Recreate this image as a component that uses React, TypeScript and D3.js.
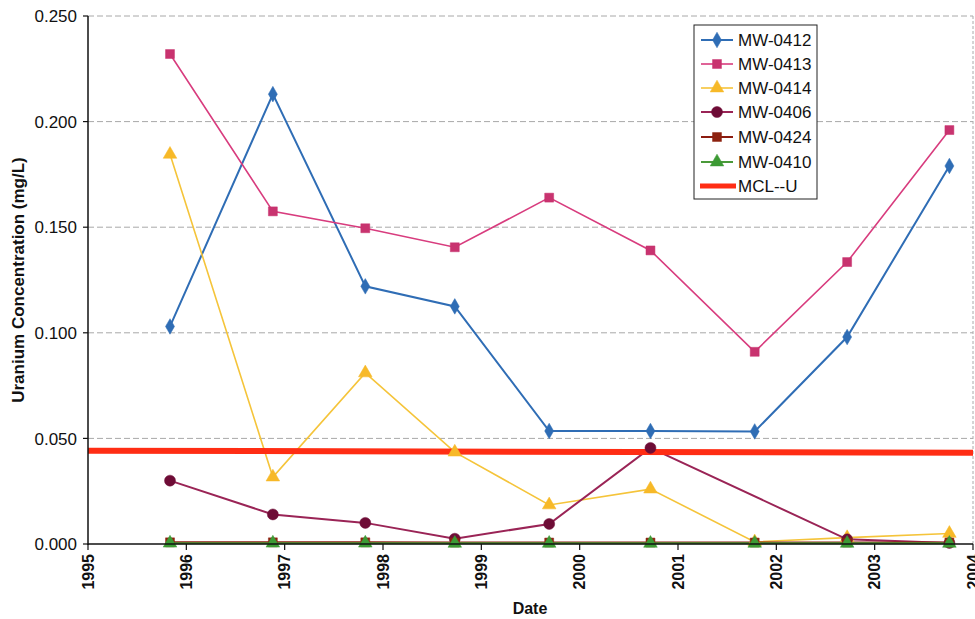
import React from "react";
import * as d3 from "d3";

const dates = [1995.834, 1996.88, 1997.82, 1998.73, 1999.69, 2000.72, 2001.78, 2002.72, 2003.76];
const mw0412 = [0.103, 0.213, 0.122, 0.1125, 0.0535, 0.0535, 0.0533, 0.098, 0.179];
const mw0413 = [0.232, 0.1575, 0.1495, 0.1405, 0.164, 0.139, 0.091, 0.1335, 0.196];
const mw0414 = [0.1845, 0.0317, 0.081, 0.0435, 0.0185, 0.026, 0.001, 0.003, 0.005];
const mw0406: (number | null)[] = [0.030, 0.014, 0.010, 0.0025, 0.0095, 0.0455, null, 0.0022, 0.0005];
const mw0424 = [0.0008, 0.0008, 0.0008, 0.0007, 0.0007, 0.0007, 0.0007, 0.0007, 0.0007];
const mw0410 = [0.0004, 0.0004, 0.0004, 0.0003, 0.0003, 0.0003, 0.0003, 0.0003, 0.0003];
const mclDates = [1995, 2004];
const mclValues = [0.0442, 0.0432];
const yTicks = [0, 0.05, 0.1, 0.15, 0.2, 0.25];
const xTicks = [1995, 1996, 1997, 1998, 1999, 2000, 2001, 2002, 2003, 2004];

type Series = { name: string; values: (number | null)[]; line: string; fill: string; marker: string; width: number };
const series: Series[] = [
  { name: "MW-0412", values: mw0412, line: "#2f6db5", fill: "#2f6db5", marker: "diamond", width: 2 },
  { name: "MW-0413", values: mw0413, line: "#d83c7e", fill: "#c8336f", marker: "square", width: 1.6 },
  { name: "MW-0414", values: mw0414, line: "#f5c43a", fill: "#f7b928", marker: "triangle", width: 1.6 },
  { name: "MW-0406", values: mw0406, line: "#9a2456", fill: "#6e0c36", marker: "circle", width: 2 },
  { name: "MW-0424", values: mw0424, line: "#8c1c10", fill: "#8c2210", marker: "square", width: 2 },
  { name: "MW-0410", values: mw0410, line: "#4a9a3a", fill: "#3c9a34", marker: "triangle", width: 2 },
];

const L = 88, R = 973, T = 16, B = 544;
const font = "'Liberation Sans', Arial, sans-serif";

function Marker({ type, x, y, fill }: { type: string; x: number; y: number; fill: string }) {
  const sym = type === "diamond" ? d3.symbolDiamond : type === "square" ? d3.symbolSquare : type === "triangle" ? d3.symbolTriangle : d3.symbolCircle;
  const size = type === "diamond" ? 70 : type === "square" ? 80 : type === "triangle" ? 80 : 95;
  const p = d3.symbol().type(sym).size(size)() as string;
  return <path d={p} transform={`translate(${x},${y})`} fill={fill} stroke={fill} strokeWidth={0.5} />;
}

export default function App() {
  const x = d3.scaleLinear().domain([1995, 2004]).range([L, R]);
  const y = d3.scaleLinear().domain([0, 0.25]).range([B, T]);
  const line = d3.line<[number, number | null]>()
    .defined((d) => d[1] !== null)
    .x((d) => x(d[0]))
    .y((d) => y(d[1] as number));

  const legendY = [40, 64, 88, 112, 137, 162, 186];
  return (
    <svg width={975} height={619} style={{ position: "absolute", left: 0, top: 0, background: "#fff" }}>
      {/* grid */}
      {yTicks.filter((t) => t > 0).map((t) => (
        <line key={t} x1={L} x2={R} y1={y(t)} y2={y(t)} stroke="#a8a8a8" strokeWidth={1} strokeDasharray="6,3" />
      ))}
      <line x1={R} x2={R} y1={T} y2={B} stroke="#aaa" strokeDasharray="3,2" />
      {/* series lines */}
      {series.map((s) => (
        <path key={s.name} d={line(dates.map((d, i) => [d, s.values[i]] as [number, number | null]).filter((p) => p[1] !== null)) as string}
          fill="none" stroke={s.line} strokeWidth={s.width} />
      ))}
      {/* MCL */}
      <path d={line(mclDates.map((d, i) => [d, mclValues[i]] as [number, number])) as string} fill="none" stroke="#ff2d14" strokeWidth={6} />
      {/* markers */}
      {series.map((s) =>
        dates.map((d, i) => s.values[i] === null ? null : (
          <Marker key={s.name + i} type={s.marker} x={x(d)} y={y(s.values[i] as number)} fill={s.fill} />
        ))
      )}
      {/* axes */}
      <line x1={L} x2={L} y1={T} y2={B + 1} stroke="#111" strokeWidth={1.5} />
      <line x1={L} x2={R} y1={B} y2={B} stroke="#111" strokeWidth={1.5} />
      {yTicks.map((t) => (
        <g key={t}>
          <line x1={L - 5} x2={L} y1={y(t)} y2={y(t)} stroke="#111" strokeWidth={1.2} />
          <text x={77} y={y(t)} dy="0.36em" textAnchor="end" fontFamily={font} fontSize={17} fill="#111">{d3.format(".3f")(t)}</text>
        </g>
      ))}
      {xTicks.map((t) => (
        <g key={t}>
          <line x1={x(t)} x2={x(t)} y1={B} y2={B + 6} stroke="#111" strokeWidth={1.2} />
          <text transform={`translate(${x(t)},${B + 10}) rotate(-90)`} textAnchor="end" dy="0.36em" fontFamily={font} fontWeight="bold" fontSize={16} fill="#111">{t}</text>
        </g>
      ))}
      <text x={530} y={614} textAnchor="middle" fontFamily={font} fontWeight="bold" fontSize={16} fill="#111">Date</text>
      <text transform="translate(18,280) rotate(-90)" textAnchor="middle" dy="0.36em" fontFamily={font} fontWeight="bold" fontSize={17} fill="#111">Uranium Concentration (mg/L)</text>
      {/* legend */}
      <rect x={694} y={25} width={123} height={174} fill="#fff" stroke="#222" strokeWidth={1} />
      {series.map((s, i) => (
        <g key={s.name}>
          <line x1={701} x2={733} y1={legendY[i]} y2={legendY[i]} stroke={s.line} strokeWidth={s.width} />
          <Marker type={s.marker} x={717} y={legendY[i]} fill={s.fill} />
          <text x={738} y={legendY[i]} dy="0.36em" fontFamily={font} fontSize={17} fill="#111">{s.name}</text>
        </g>
      ))}
      <line x1={700} x2={736} y1={legendY[6]} y2={legendY[6]} stroke="#ff2d14" strokeWidth={5} />
      <text x={738} y={legendY[6]} dy="0.36em" fontFamily={font} fontSize={17} fill="#111">MCL--U</text>
    </svg>
  );
}
